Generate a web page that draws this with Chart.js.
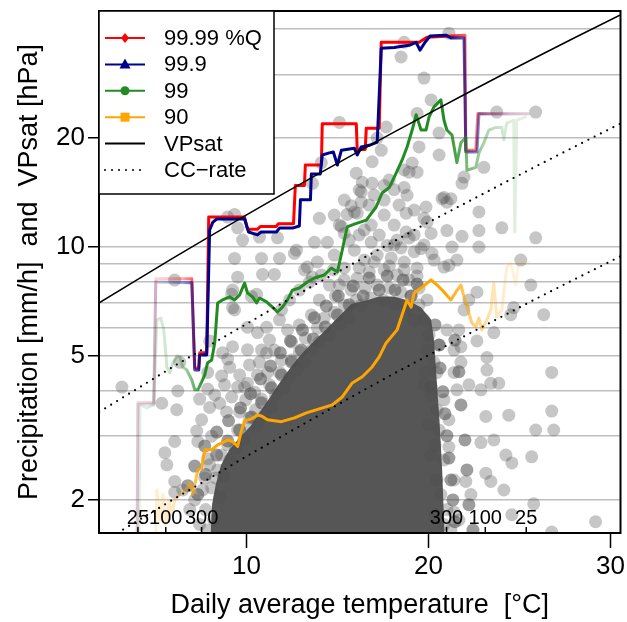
<!DOCTYPE html>
<html><head><meta charset="utf-8">
<script src="https://cdn.jsdelivr.net/npm/chart.js@4.4.1/dist/chart.umd.min.js"></script>
<style>html,body{margin:0;padding:0;background:#fff;}#wrap{width:627px;height:622px;}</style>
</head><body><div id="wrap"><canvas id="c" width="627" height="622"></canvas></div>
<script>
// ---------------- DATA ----------------
const xTickValues = [10, 20, 30];
const yGridValues = [2, 3, 4, 5, 6, 7, 8, 9, 10, 20, 30, 40];
const yLabelValues = [2, 5, 10, 20];
const xTitle = "Daily average temperature  [\u00B0C]";
const yTitle = "Precipitation [mm/h]  and  VPsat [hPa]";
const legendLabels = ["99.99 %Q", "99.9", "99", "90", "VPsat", "CC\u2212rate"];
const countTickT = [4.03, 5.56, 7.53, 20.99, 23.12, 25.37];
const countTickLabels = ["25", "100", "300", "300", "100", "25"];

// 99.99 % quantile
const q9999T = [3.97,4.03,4.90,5.01,6.99,7.15,7.37,7.42,7.81,7.92,9.89,10.05,10.60,10.77,11.64,11.75,12.58,12.68,13.18,13.23,14.11,14.16,16.03,16.08,16.52,16.58,17.29,17.40,19.48,19.92,22.00,22.05,22.60,22.71,25.50];
const q9999P = [1.3,3.72,3.72,8.17,8.17,4.63,4.63,5.10,5.10,12.1,12.1,11.2,11.2,11.4,11.4,11.6,11.6,14.8,14.8,16.85,16.85,21.9,21.9,18.6,18.6,21.3,21.3,36.8,36.8,38.0,38.5,18.5,18.5,23.4,23.4];
// 99.9 %
const q999T = [3.97,4.03,4.90,5.01,6.99,7.15,7.37,7.42,7.81,7.97,8.14,8.36,9.89,10.11,10.60,10.80,11.64,11.81,12.52,12.90,12.96,13.51,13.56,14.05,14.16,14.55,14.77,14.99,15.21,15.92,16.08,16.30,16.74,17.18,17.40,18.11,18.93,19.32,19.53,19.81,20.08,20.96,21.23,21.95,22.05,22.66,22.77,25.50];
const q999P = [1.3,3.68,3.68,8.0,7.96,4.57,4.57,5.03,5.03,11.14,11.7,11.95,11.95,11.0,10.8,11.0,11.0,11.28,11.28,11.43,13.5,13.5,15.9,15.9,17.96,18.2,18.3,16.85,18.5,18.75,17.96,18.9,19.1,19.5,35.4,35.6,36.1,36.8,35.0,36.8,38.3,38.5,37.8,37.8,18.3,18.3,23.3,23.3];
// 99 %
const q99T = [4.08,4.14,4.52,4.90,5.07,5.29,5.45,5.62,5.78,5.95,6.16,6.33,6.49,6.71,6.99,7.15,7.32,7.53,7.70,7.86,8.08,8.25,8.41,8.68,9.07,9.34,9.62,9.89,10.05,10.33,10.55,10.71,11.10,11.42,11.70,11.97,12.25,12.52,12.90,13.34,13.73,14.27,14.66,14.99,15.26,15.53,15.92,16.58,17.12,17.45,17.84,18.22,18.55,18.82,19.10,19.32,19.59,19.86,20.03,20.30,20.68,20.85,21.01,21.29,21.56,21.78,22.05,22.11,22.60,22.77,23.04,23.32,23.70,24.03,24.14,24.30,24.68,24.74,24.85,25.34];
const q99P = [1.3,3.66,3.59,3.66,6.29,6.36,5.9,4.66,4.49,4.79,5.0,4.97,4.66,4.57,4.29,4.03,4.03,4.24,4.43,4.79,4.87,5.43,7.0,7.14,7.28,7.14,7.37,7.95,7.46,7.28,7.0,7.23,7.05,6.82,6.61,6.82,7.14,7.6,7.7,8.0,8.21,8.37,8.75,8.53,9.81,11.36,11.57,11.87,12.9,14.1,14.6,16.0,17.4,18.9,21.05,23.2,21.05,21.05,22.9,24.4,25.5,22.4,21.05,20.4,17.1,19.4,20.1,16.3,16.6,18.2,19.4,21.05,21.4,21.4,19.8,22.0,22.4,11.0,22.4,22.9];
// 90 %
const q90T = [4.96,5.07,5.23,5.40,5.56,5.73,5.89,6.05,6.33,6.60,6.88,7.04,7.32,7.53,7.70,8.08,8.41,8.68,8.96,9.23,9.51,9.73,9.89,10.27,10.60,10.82,11.15,11.92,12.63,13.29,14.00,14.71,15.26,15.81,16.36,16.90,17.29,17.67,18.27,18.82,19.04,19.21,19.59,20.14,20.47,20.85,21.23,21.51,21.78,21.95,22.22,22.38,22.60,22.77,22.93,23.21,23.42,23.59,23.75,24.03,24.30,24.52,24.79,24.96,25.23,25.51];
const q90P = [1.3,2.13,1.76,2.07,1.71,2.0,1.82,2.0,2.07,2.11,2.23,2.07,2.42,2.45,2.75,2.75,2.84,2.88,2.93,2.9,2.81,3.12,3.31,3.35,3.43,3.41,3.33,3.29,3.37,3.48,3.57,3.66,3.85,4.21,4.38,4.66,4.97,5.43,5.90,7.14,6.82,7.46,7.7,8.11,7.85,7.51,7.14,7.51,7.85,7.28,6.57,6.17,6.01,6.36,5.90,6.29,6.70,7.95,6.41,6.70,8.8,9.03,7.85,9.09,9.03,9.09];

// saturation vapour pressure and CC-rate reference lines
const vpT = [1.9,4,6,8,10,12,14,16,18,20,22,24,26,28,30.6];
const vpP = [7.01,8.13,9.35,10.72,12.27,14.02,15.97,18.17,20.63,23.37,26.43,29.83,33.61,37.81,43.94];
const ccHiP = [3.50,4.06,4.68,5.36,6.13,7.01,7.99,9.08,10.3,11.7,13.2,14.9,16.8,18.9,22.0];
const ccLoP = [1.51,1.75,2.01,2.30,2.64,3.01,3.43,3.91,4.44,5.02,5.68,6.41,7.23,8.13,9.45];

// saturated (fully overlapping) core of the daily point cloud, upper outline
const coreT = [8.0,8.1,8.3,8.6,9.05,9.62,10.27,10.82,11.37,11.92,12.52,13.12,13.78,14.44,15.10,15.75,16.52,17.29,18.11,18.93,19.59,20.14,20.3,20.45,20.6,20.75,20.9];
const coreP = [1.5,1.94,2.2,2.5,2.75,2.97,3.22,3.55,3.90,4.29,4.72,5.13,5.53,5.97,6.45,6.96,7.1,7.3,7.3,7.1,6.8,6.3,5.53,4.29,3.33,2.42,1.5];

// individual daily points in the dense fringe of the cloud [temperature, precipitation]
const fringeTP = [
[7.32,2.07],[7.75,2.35],[8.36,2.66],[8.96,2.91],[9.62,3.12],[10.27,3.39],[10.82,3.71],[11.37,4.08],[11.92,4.43],[12.47,4.81],[13.01,5.19],[13.67,5.57],[14.33,6.01],[14.99,6.49],[15.64,6.92],[16.41,7.32],[17.29,7.61],[18.16,7.61],[19.04,7.32],
[6.77,2.19],[7.15,2.48],[7.70,2.82],[8.36,3.08],[9.01,3.31],[9.67,3.59],[10.22,3.93],[10.77,4.32],[11.32,4.69],[11.86,5.10],[12.41,5.50],[13.07,5.90],[13.73,6.37],[14.38,6.87],[15.04,7.32],[15.86,7.80],[16.74,8.21],[17.73,8.32],[18.60,8.11],[19.37,7.90],
[20.36,6.09],[20.58,5.36],[20.63,4.63],[20.79,3.98],[20.90,3.46],[21.01,3.01],[21.12,2.61],[21.23,2.27],[21.34,2.00],[21.45,1.74],
[21.45,5.53],[21.67,4.52],[21.78,3.66],[22.0,2.93],[22.11,2.42],[22.22,1.94],[22.44,1.65]
];

// individual daily points elsewhere [temperature, precipitation]
const scatterTP = [
[15.1,22.1],[18.49,33.5],[18.66,36.8],[19.75,29.3],[20.14,25.5],[19.37,23.4],[20.58,20.65],[17.67,21.46],[20.58,17.96],[19.48,18.9],[19.1,17.06],[18.93,16.1],[19.37,16.1],[17.4,18.5],[16.9,17.2],[21.84,15.0],[23.04,16.6],[23.75,23.6],[25.89,23.6],[16.36,15.1],[16.9,15.0],[17.56,14.8],[18.66,14.6],[18.82,13.9],[16.3,14.2],[16.3,13.3],[16.08,12.4],[20.85,13.7],[21.95,15.6],[22.77,12.5],[19.86,12.9],[21.01,13.3],[17.18,20.0],[18.11,14.4],[16.03,16.0],[20.74,13.6],[21.23,13.6],[24.03,11.3],[25.89,10.6],[22.77,11.1],[21.84,10.7],[21.01,11.1],[19.75,12.0],[18.77,12.4],[18.77,11.0],[22.77,10.0],[21.29,10.0],[20.19,9.6],[19.59,9.9],[21.12,8.9],[25.62,7.85],[22.66,7.5],[26.33,6.5],[25.07,9.2],[21.56,9.2],[20.85,8.8],[20.3,9.2],[24.68,6.8],[24.52,6.5],[23.59,5.8],[22.66,5.5],[23.21,4.95],[21.78,5.3],[21.78,4.8],[23.21,4.57],[23.42,4.2],[23.86,4.2],[26.77,4.5],[21.4,4.5],[22.22,4.16],[22.88,4.03],[21.56,4.03],[20.47,4.5],[20.14,4.1],[20.14,10.9],[21.12,39.0],
[18.11,11.5],[17.56,12.25],[16.85,11.5],[16.19,10.8],[19.21,10.8],[18.27,10.45],[15.75,13.0],[14.82,12.25],
[8.96,12.1],[9.51,11.3],[9.78,10.45],[10.71,10.65],[11.7,10.6],[14.0,12.0],[15.53,12.3],[9.34,9.3],[10.82,9.3],[11.81,9.3],[12.74,9.8],[13.34,8.8],[13.73,10.3],[14.44,10.3],[15.21,11.4],[15.37,10.9],[9.51,8.25],[11.53,8.4],[13.62,8.25],[6.05,8.1],[9.23,7.6],[9.23,6.8],[10.27,7.3],[10.05,6.0],[9.23,5.3],[8.68,5.1],[8.96,4.9],[7.86,4.5],[6.33,4.8],[3.15,4.1],[6.22,4.0],[9.34,12.3],[12.63,9.6],[10.88,8.4],[9.18,7.4],[10.55,7.4],[9.34,6.7],[11.92,6.7],[11.1,6.0],[7.97,5.5],[8.63,4.4],[9.07,4.65],[10.05,5.2],[10.6,5.8],[5.34,3.7],[7.42,3.8],[7.97,3.6],[8.52,3.7],[8.9,3.5],[9.51,4.1],[10.05,4.2],[11.1,5.1],[14.11,17.1],[13.62,15.0],
[6.16,3.55],[6.05,2.9],[5.51,2.7],[5.62,2.5],[6.05,2.25],[6.05,2.1],[6.49,2.13],[7.53,3.33],[7.26,3.1],[7.32,2.9],[8.08,3.0],[7.86,2.6],[7.7,2.3],[7.59,2.13],[7.15,2.0],[6.88,1.88],[7.97,2.5],
[26.77,3.52],[26.88,3.12],[25.89,3.12],[25.67,2.63],[24.58,2.53],[24.25,2.66],[24.41,3.43],[25.78,1.95],[24.58,1.82],[29.18,1.74],[26.77,1.63],[23.15,3.4],[23.59,2.93],[22.88,2.88],[23.15,2.37],[23.42,2.25],[24.14,2.13],[22.33,2.07],[21.4,1.85],[22.05,2.25],[21.12,2.8],
[8.19,1.76],[8.52,2.03],[7.75,1.88],[8.08,2.16],[8.74,2.33],[9.07,2.58],[8.41,2.42],[9.4,2.78],[9.84,2.93],[8.96,2.84],[10.16,3.2],[9.51,3.12],[8.63,2.66],[7.42,1.71],[7.81,1.65],[8.3,2.3],
[10.6,3.22],[10.99,3.43],[11.37,3.6],[10.82,3.8],[11.59,3.9],[12.03,4.07],[11.26,4.16],[12.36,4.35],[12.79,4.57],[11.81,4.5],[13.18,4.8],[12.47,4.87],[10.49,3.55],[10.16,3.37],[11.15,4.5],[11.92,4.87],[12.9,5.13],[10.44,3.97],[9.95,3.78],[9.62,3.5],
[13.56,5.19],[14.0,5.46],[14.55,5.71],[13.89,5.97],[13.23,5.6],[15.1,6.09],[15.64,6.36],[14.82,6.6],[14.27,6.36],[15.37,6.91],[16.03,7.14],[13.56,6.49],[12.9,6.09],[14.0,7.14],[14.88,7.32],[12.47,5.46],
[16.3,6.91],[16.85,7.23],[17.51,7.14],[18.16,6.95],[18.82,6.7],[19.21,6.29],[16.52,7.7],[17.18,7.85],[17.84,7.7],[18.49,7.5],[19.04,7.32],[19.48,6.91],[16.08,8.2],[16.74,8.53],[17.56,8.64],[18.27,8.37],[18.93,8.11],[19.48,7.7],[16.47,9.21],[17.18,9.5],[17.95,9.33],[18.66,9.09],[19.37,8.75],[15.75,7.6],[19.92,7.14],[16.85,10.3],[17.73,10.1],[18.49,9.94],[15.92,9.8],[19.21,9.7],[15.37,8.75],[15.1,7.85],
[19.75,6.29],[20.03,5.71],[19.92,5.19],[20.3,4.8],[19.81,4.5],[20.58,5.36],[20.14,3.9],[20.47,3.55],[20.03,3.22],[20.58,3.12],[20.36,2.84],[20.85,2.58],[20.47,2.27],[20.68,2.07],[21.01,1.88],[20.36,1.82],[20.85,1.71],[21.23,1.65],[21.67,1.76],[19.75,4.16],[20.14,2.66],[21.4,2.27],[21.12,3.33],[20.85,3.78],[21.4,5.19],[21.01,5.9],[21.67,5.9],[21.95,6.7],[22.22,7.14],
[12.9,7.6],[13.45,8.0],[14.11,8.37],[14.77,8.64],[13.89,9.09],[13.18,8.64],[12.36,7.14],[11.81,6.29],[11.26,5.53],[12.25,5.9],[10.71,4.8],[11.53,5.19],
[8.25,3.9],[8.79,4.16],[9.62,4.43],[10.16,4.72],[10.82,5.19],[9.18,3.85],[9.89,4.1],[7.86,4.05],[10.6,4.43],
[14.55,7.85],[15.37,8.11],[16.19,8.75],[17.01,9.09],[17.84,8.86],[18.66,8.64],[19.37,8.32],[14.82,9.50],[15.64,10.45],[16.47,11.14],[17.29,10.79],[18.11,10.13],[18.93,10.59],[19.75,10.13],[15.1,11.50],[15.92,12.49],[16.74,13.06],[17.56,13.48],[18.38,13.06],[19.21,12.65],[19.92,11.72],[17.84,15.31],[18.66,16.32],[17.01,13.92],[16.19,14.37],[15.37,13.48]
];

// sample-size fading of the quantile curves along temperature
const fadeT = [3.9, 5.5, 6.5, 7.2, 7.7, 20.9, 21.5, 22.1, 22.8, 23.5, 24.5, 25.6];
const fadeA = [0.12, 0.2, 0.35, 0.7, 1, 1, 0.8, 0.6, 0.45, 0.3, 0.15, 0.1];

// ---------------- CHART ----------------
const FONT = '"Liberation Sans", Arial, Helvetica, sans-serif';
Chart.defaults.font.family = FONT;
const xy = (T, P) => T.map((t, i) => ({x: t, y: P[i]}));
const pts = L => L.map(p => ({x: p[0], y: p[1]}));

function fadeStroke(rgb) {
  return function (context) {
    const chart = context.chart;
    const xs = chart.scales && chart.scales.x;
    if (!chart.chartArea || !xs) return 'rgb(' + rgb + ')';
    const x0 = xs.getPixelForValue(fadeT[0]);
    const x1 = xs.getPixelForValue(fadeT[fadeT.length - 1]);
    const g = chart.ctx.createLinearGradient(x0, 0, x1, 0);
    fadeT.forEach((t, i) => {
      const f = Math.min(1, Math.max(0, (xs.getPixelForValue(t) - x0) / (x1 - x0)));
      g.addColorStop(f, 'rgba(' + rgb + ',' + fadeA[i] + ')');
    });
    return g;
  };
}
function qLine(T, P, rgb, order) {
  return {type: 'line', data: xy(T, P), borderColor: fadeStroke(rgb), borderWidth: 3,
    pointRadius: 0, fill: false, tension: 0, order: order,
    borderJoinStyle: 'round', borderCapStyle: 'round'};
}

const legendStyles = [
  {c: 'rgb(255,0,0)', m: 'diamond'}, {c: 'rgb(0,0,139)', m: 'triangle'},
  {c: 'rgb(34,139,34)', m: 'circle'}, {c: 'rgb(255,165,0)', m: 'square'},
  {c: '#000', m: 'solid'}, {c: '#000', m: 'dotted'}
];

const decor = {
  id: 'decor',
  afterDraw(chart) {
    const ctx = chart.ctx, a = chart.chartArea, xs = chart.scales.x;
    ctx.save();
    ctx.strokeStyle = '#000'; ctx.lineWidth = 2;
    ctx.strokeRect(a.left, a.top, a.right - a.left, a.bottom - a.top);
    ctx.lineWidth = 1.5; ctx.fillStyle = '#000';
    ctx.font = '20px ' + FONT; ctx.textAlign = 'center'; ctx.textBaseline = 'alphabetic';
    countTickT.forEach((t, i) => {
      const px = xs.getPixelForValue(t);
      ctx.beginPath(); ctx.moveTo(px, a.bottom); ctx.lineTo(px, a.bottom - 6); ctx.stroke();
      ctx.fillText(countTickLabels[i], px, a.bottom - 9);
    });
    const lx = a.left, ly = a.top, lw = 175, lh = 183;
    ctx.fillStyle = '#fff'; ctx.fillRect(lx, ly, lw, lh);
    ctx.lineWidth = 1.5; ctx.strokeStyle = '#000'; ctx.strokeRect(lx, ly, lw, lh);
    ctx.font = '22px ' + FONT; ctx.textAlign = 'left'; ctx.textBaseline = 'middle';
    legendLabels.forEach((lab, i) => {
      const y = ly + 27 + i * 26.4, s = legendStyles[i];
      ctx.strokeStyle = s.c; ctx.fillStyle = s.c;
      ctx.beginPath();
      if (s.m === 'dotted') { ctx.setLineDash([0, 7]); ctx.lineCap = 'round'; ctx.lineWidth = 2; }
      else { ctx.setLineDash([]); ctx.lineCap = 'butt'; ctx.lineWidth = 2; }
      ctx.moveTo(lx + 6, y); ctx.lineTo(lx + 46, y); ctx.stroke();
      ctx.setLineDash([]);
      const cx = lx + 26;
      ctx.beginPath();
      if (s.m === 'diamond') { ctx.moveTo(cx, y - 5); ctx.lineTo(cx + 4, y); ctx.lineTo(cx, y + 5); ctx.lineTo(cx - 4, y); ctx.closePath(); ctx.fill(); }
      if (s.m === 'triangle') { ctx.moveTo(cx, y - 6); ctx.lineTo(cx + 5.5, y + 4); ctx.lineTo(cx - 5.5, y + 4); ctx.closePath(); ctx.fill(); }
      if (s.m === 'circle') { ctx.arc(cx, y, 4.5, 0, Math.PI * 2); ctx.fill(); }
      if (s.m === 'square') { ctx.rect(cx - 4.5, y - 4.5, 9, 9); ctx.fill(); }
      ctx.fillStyle = '#000';
      ctx.fillText(lab, lx + 65, y + 1);
    });
    ctx.font = '27px ' + FONT; ctx.textAlign = 'center'; ctx.textBaseline = 'middle';
    ctx.fillText(xTitle, (a.left + a.right) / 2, 606);
    ctx.translate(30, (a.top + a.bottom) / 2); ctx.rotate(-Math.PI / 2);
    ctx.fillText(yTitle, 0, 0);
    ctx.restore();
  }
};

new Chart(document.getElementById('c'), {
  type: 'scatter',
  data: {datasets: [
    {type: 'line', data: xy(coreT, coreP), fill: 'start', backgroundColor: 'rgb(86,86,86)',
      borderColor: 'rgba(0,0,0,0)', borderWidth: 1, pointRadius: 0, order: 22},
    {type: 'scatter', data: pts(fringeTP), pointRadius: 6.5,
      backgroundColor: 'rgba(77,77,77,0.55)', borderWidth: 0, pointBorderWidth: 0, order: 21},
    {type: 'scatter', data: pts(scatterTP), pointRadius: 6.5,
      backgroundColor: 'rgba(77,77,77,0.32)', borderWidth: 0, pointBorderWidth: 0, order: 20},
    qLine(q9999T, q9999P, '255,0,0', 5),
    qLine(q999T, q999P, '0,0,139', 4),
    qLine(q99T, q99P, '34,139,34', 3),
    qLine(q90T, q90P, '255,165,0', 2),
    {type: 'line', data: xy(vpT, ccHiP), borderColor: '#000', borderWidth: 2.2, borderDash: [0, 7],
      borderCapStyle: 'round', pointRadius: 0, fill: false, order: 1},
    {type: 'line', data: xy(vpT, ccLoP), borderColor: '#000', borderWidth: 2.2, borderDash: [0, 7],
      borderCapStyle: 'round', pointRadius: 0, fill: false, order: 1},
    {type: 'line', data: xy(vpT, vpP), borderColor: '#000', borderWidth: 1.5, pointRadius: 0, fill: false, order: 0}
  ]},
  options: {
    responsive: false, animation: false, devicePixelRatio: 1,
    layout: {padding: {top: 11, right: 5, left: 0, bottom: 0}},
    plugins: {legend: {display: false}, tooltip: {enabled: false}},
    scales: {
      x: {type: 'linear', min: 1.89, max: 30.55,
        afterBuildTicks: s => { s.ticks = xTickValues.map(v => ({value: v})); },
        afterFit: s => { s.height = 89; s.paddingLeft = 0; s.paddingRight = 0; },
        ticks: {autoSkip: false, maxRotation: 0, color: '#000', padding: 3, font: {size: 26}},
        grid: {drawOnChartArea: false, tickLength: 15, tickColor: '#000', tickWidth: 1.5},
        border: {display: false}},
      y: {type: 'logarithmic', min: 1.62, max: 44.9,
        afterBuildTicks: s => { s.ticks = yGridValues.map(v => ({value: v})); },
        afterFit: s => { s.width = 99; s.paddingTop = 0; s.paddingBottom = 0; },
        ticks: {autoSkip: false, color: '#000', padding: 3, font: {size: 26},
          callback: v => yLabelValues.includes(v) ? String(v) : ''},
        grid: {color: 'rgb(190,190,190)', lineWidth: 1.5, tickLength: 11, tickWidth: 1.5,
          tickColor: c => (c.tick && yLabelValues.includes(c.tick.value)) ? '#000' : 'rgba(0,0,0,0)'},
        border: {display: false}}
    }
  },
  plugins: [decor]
});
</script>
</body></html>
